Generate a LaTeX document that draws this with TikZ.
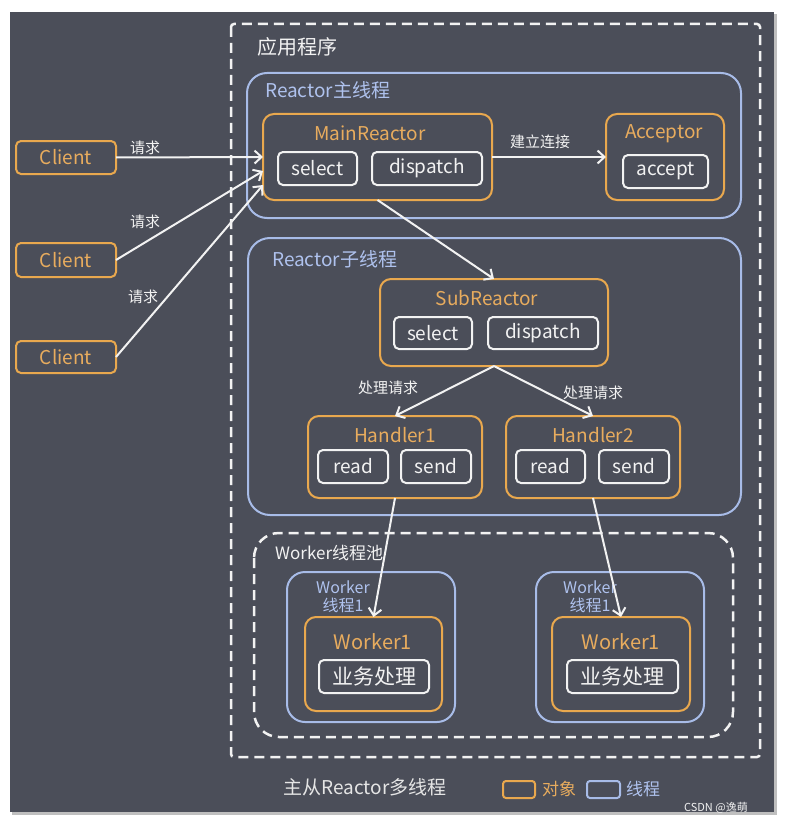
\documentclass[tikz,border=0pt]{standalone}
\usepackage{fontspec}
\setmainfont{Noto Sans CJK SC}
\usetikzlibrary{arrows.meta,calc}
\definecolor{bg}{HTML}{4B4E59}
\definecolor{org}{HTML}{E9A84E}
\definecolor{orgtxt}{HTML}{E8AC5E}
\definecolor{blu}{HTML}{A8BCE8}
\definecolor{blutxt}{HTML}{AFC2EE}
\definecolor{wht}{HTML}{F2F2F2}
\tikzset{
  box/.style={inner sep=0pt, outer sep=0pt, line width=2pt},
  obj/.style={box, draw=org, rounded corners=11pt},
  thr/.style={box, draw=blu, rounded corners=20pt},
  op/.style={box, draw=wht, rounded corners=5pt, text=wht, font=\fontsize{19}{22}\selectfont},
  client/.style={box, draw=org, rounded corners=5pt, text=orgtxt, font=\fontsize{19}{22}\selectfont, minimum width=100pt},
  ttl/.style={inner sep=0pt, text=orgtxt, font=\fontsize{19}{22}\selectfont},
  thrlbl/.style={inner sep=0pt, text=blutxt, font=\fontsize{19}{22}\selectfont},
  smlbl/.style={inner sep=0pt, text=blutxt, font=\fontsize{16}{18}\selectfont, align=center},
  lbl/.style={inner sep=0pt, text=wht, font=\fontsize{15}{18}\selectfont},
  arr/.style={draw=wht, line width=2pt, -{Straight Barb[length=7pt,width=13pt,line width=2pt]}},
  dsh/.style={draw=wht, line width=2.5pt, dash pattern=on 10pt off 6pt}
}
\begin{document}
\begin{tikzpicture}[x=1pt,y=-1pt]
\useasboundingbox (0,0) rectangle (786,824);
\fill[white] (0,0) rectangle (786,824);
\fill[black!25] (12,14) rectangle (777,815);
\fill[bg] (10,12) rectangle (774,812);

% application frame
\draw[dsh, rounded corners=3pt] (231,24) rectangle (760,757);
\node[anchor=west, inner sep=0pt, text=wht, font=\fontsize{20}{24}\selectfont] (app) at (257,47) {应用程序};

% thread boxes
\node[thr, minimum width=494pt, minimum height=145pt] (mainthr) at (494,145.5) {};
\node[thrlbl, anchor=west] (mainthrlbl) at (265,90) {Reactor主线程};
\node[thr, rounded corners=22pt, minimum width=493pt, minimum height=277pt] (subthr) at (494.5,376.5) {};
\node[thrlbl, anchor=west] (subthrlbl) at (272,259) {Reactor子线程};

% MainReactor
\node[obj, minimum width=229pt, minimum height=86pt] (main) at (377.5,157) {};
\node[ttl] (maint) at (370,133) {MainReactor};
\node[op, minimum width=79pt, minimum height=33pt] (msel) at (317.5,168.5) {select};
\node[op, minimum width=110pt, minimum height=33pt] (mdis) at (427,168.5) {dispatch};

% Acceptor
\node[obj, minimum width=118pt, minimum height=86pt] (acc) at (665,157) {};
\node[ttl] (acct) at (664,134) {Acceptor};
\node[op, minimum width=85pt, minimum height=33pt] (acca) at (665.5,171.5) {accept};

% Clients
\node[client, minimum height=33pt] (c1) at (66,157.5) {Client};
\node[client, minimum height=34pt] (c2) at (66,260) {Client};
\node[client, minimum height=32pt] (c3) at (66,357) {Client};

% SubReactor
\node[obj, minimum width=228pt, minimum height=87pt] (sub) at (494,322.5) {};
\node[ttl] (subt) at (487,298) {SubReactor};
\node[op, minimum width=78pt, minimum height=32pt] (ssel) at (433,333) {select};
\node[op, minimum width=110pt, minimum height=32pt] (sdis) at (543,333) {dispatch};

% Handlers
\node[obj, minimum width=174pt, minimum height=82pt] (h1) at (395,457) {};
\node[ttl] (h1t) at (395,435) {Handler1};
\node[op, minimum width=70pt, minimum height=33pt] (h1r) at (353,466.5) {read};
\node[op, minimum width=70pt, minimum height=33pt] (h1s) at (436,466.5) {send};
\node[obj, minimum width=174pt, minimum height=82pt] (h2) at (593,457) {};
\node[ttl] (h2t) at (593,435) {Handler2};
\node[op, minimum width=69pt, minimum height=33pt] (h2r) at (550.5,466.5) {read};
\node[op, minimum width=70pt, minimum height=33pt] (h2s) at (634,466.5) {send};

% Worker pool
\draw[dsh, rounded corners=25pt] (254,533) rectangle (733,737);
\node[anchor=west, inner sep=0pt, text=wht, font=\fontsize{17}{20}\selectfont] (pool) at (275,553) {Worker线程池};

\node[thr, rounded corners=18pt, minimum width=168pt, minimum height=150pt] (wt1) at (371,647) {};
\node[smlbl] (wt1l) at (343,597) {Worker\\线程1};
\node[obj, minimum width=137pt, minimum height=94pt] (w1) at (373.5,664) {};
\node[ttl, font=\fontsize{20}{24}\selectfont] (w1t) at (373,642) {Worker1};
\node[op, font=\fontsize{21}{24}\selectfont, minimum width=110pt, minimum height=33pt] (w1b) at (374,676.5) {业务处理};

\node[thr, rounded corners=18pt, minimum width=168pt, minimum height=150pt] (wt2) at (620,647) {};
\node[smlbl] (wt2l) at (590,597) {Worker\\线程1};
\node[obj, minimum width=138pt, minimum height=94pt] (w2) at (621,664) {};
\node[ttl, font=\fontsize{20}{24}\selectfont] (w2t) at (621,642) {Worker1};
\node[op, font=\fontsize{21}{24}\selectfont, minimum width=111pt, minimum height=33pt] (w2b) at (622.5,676.5) {业务处理};

% arrows
\draw[arr] (c1.east) -- ($(main.west)+(0,0)$);
\draw[arr] (c2.east) -- ($(main.west)+(0,14)$);
\draw[arr] (c3.east) -- ($(main.west)+(0,28)$);
\node[lbl] (r1) at (145,148) {请求};
\node[lbl] (r2) at (145,222) {请求};
\node[lbl] (r3) at (143,297) {请求};

\draw[arr] (main.east) -- (acc.west);
\node[lbl] (conn) at (540,142) {建立连接};

\draw[arr] (main.south) -- (sub.north);
\draw[arr] (sub.south) -- (h1.north);
\draw[arr] (sub.south) -- (h2.north);
\node[lbl] (p1) at (388,388) {处理请求};
\node[lbl] (p2) at (593,393) {处理请求};

\draw[arr] (h1.south) -- (w1.north);
\draw[arr] (h2.south) -- (w2.north);

% caption and legend
\node[inner sep=0pt, text=black!10, font=\fontsize{19}{22}\selectfont] (cap) at (365,787) {主从Reactor多线程};
\node[box, draw=org, rounded corners=3pt, minimum width=32pt, minimum height=17pt] (lgo) at (519,789.5) {};
\node[anchor=west, inner sep=0pt, text=orgtxt, font=\fontsize{17}{20}\selectfont] (lgot) at (542,789) {对象};
\node[box, draw=blu, rounded corners=3pt, minimum width=33pt, minimum height=17pt] (lgb) at (603.5,789.5) {};
\node[anchor=west, inner sep=0pt, text=blutxt, font=\fontsize{17}{20}\selectfont] (lgbt) at (626,789) {线程};
\node[anchor=east, inner sep=0pt, text=wht, font=\fontsize{11}{13}\selectfont] (csdn) at (748,808) {CSDN @逸萌};
\end{tikzpicture}
\end{document}
